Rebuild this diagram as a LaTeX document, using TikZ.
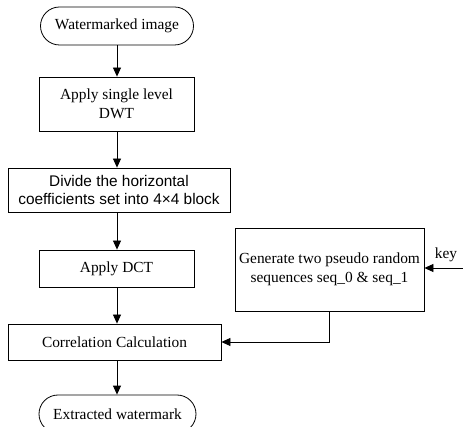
\documentclass[tikz,border=0pt]{standalone}
\usepackage{fontspec}
\setmainfont{Liberation Serif}
\setsansfont{Liberation Sans}
\usetikzlibrary{arrows.meta,shapes.misc}

\begin{document}
\begin{tikzpicture}[x=1pt,y=-1pt,line width=0.8pt,
  >={Triangle[length=9pt,width=8pt]},
  stepbox/.style={draw,rectangle,align=center,inner sep=1pt,
    font=\fontsize{15.4}{19.5}\selectfont},
  termbox/.style={draw,rounded rectangle,align=center,inner sep=1pt,
    font=\fontsize{15.4}{19.5}\selectfont}]
  \useasboundingbox (0,0) rectangle (463,427);
  % Input
  \node[termbox,minimum width=155pt,minimum height=38pt]
    (wimg) at (117,26) {Watermarked image};
  % DWT
  \node[stepbox,minimum width=155pt,minimum height=54pt]
    (dwt) at (116.5,104) {Apply single level\\DWT};
  % Blocks of the horizontal coefficients
  \node[stepbox,minimum width=222pt,minimum height=44pt,
    font=\sffamily\fontsize{15.4}{17.5}\selectfont]
    (divide) at (119,190)
    {Divide the horizontal\\coefficients set into 4×4 block};
  % DCT
  \node[stepbox,minimum width=155pt,minimum height=37pt]
    (dct) at (116.5,268.5) {Apply DCT};
  % Pseudo random sequences
  \node[stepbox,minimum width=189pt,minimum height=83pt]
    (gen) at (329.5,269.5)
    {Generate two pseudo random\\sequences seq\_0 \& seq\_1};
  \coordinate (keyin) at (463,268);
  \node[font=\fontsize{15.4}{19.5}\selectfont,inner sep=0pt]
    (keylbl) at (446,255) {key};
  % Correlation
  \node[stepbox,minimum width=213pt,minimum height=36pt]
    (corr) at (114.5,342) {Correlation Calculation};
  % Output
  \node[termbox,minimum width=159pt,minimum height=38pt]
    (wout) at (117.5,414) {Extracted watermark};
  % Connectors
  \draw[->] (wimg.south -| 117,0) -- (dwt.north -| 117,0);
  \draw[->] (dwt.south -| 117,0) -- (divide.north -| 117,0);
  \draw[->] (divide.south -| 117,0) -- (dct.north -| 117,0);
  \draw[->] (dct.south -| 117,0) -- (corr.north -| 117,0);
  \draw[->] (corr.south -| 117,0) -- (wout.north -| 117,0);
  \draw[->] (gen.south) |- (corr.east);
  \draw[->] (keyin) -- (keyin -| gen.east);
\end{tikzpicture}
\end{document}
